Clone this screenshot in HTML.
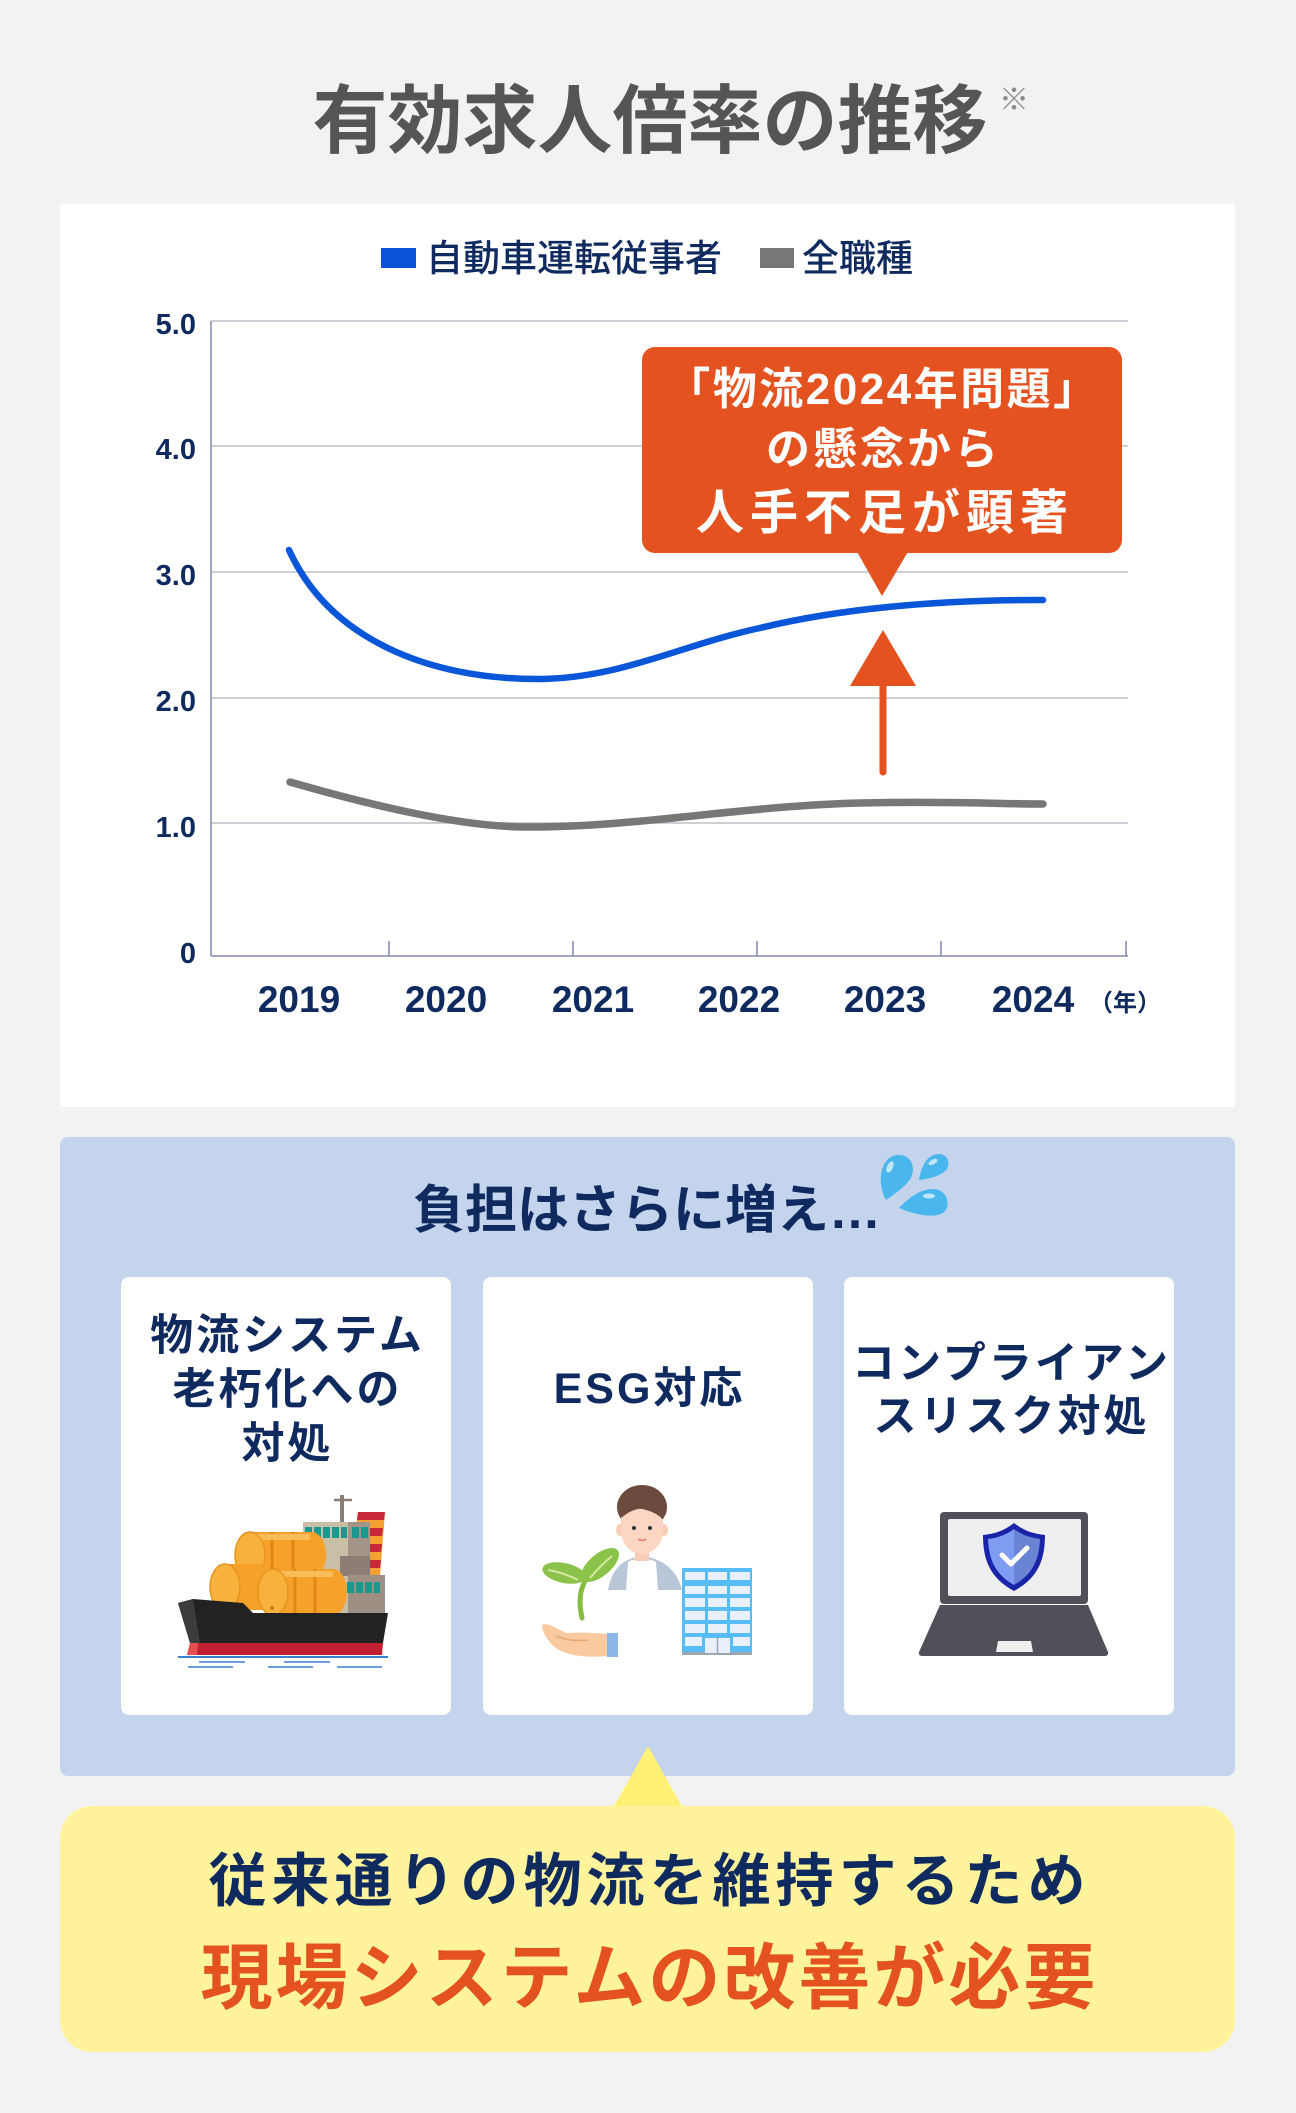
<!DOCTYPE html>
<html lang="ja">
<head>
<meta charset="utf-8">
<style>
html,body{margin:0;padding:0;background:#f2f2f2;}
svg{display:block;}
text{font-family:"Liberation Sans","Noto Sans CJK JP",sans-serif;font-weight:700;}
</style>
</head>
<body>
<svg width="1296" height="2113" viewBox="0 0 1296 2113" xmlns="http://www.w3.org/2000/svg">
<rect x="0" y="0" width="1296" height="2113" fill="#f2f2f2"/>

<!-- Title -->
<text x="650" y="147" font-size="75" fill="#555555" text-anchor="middle">有効求人倍率の推移</text>
<text x="999" y="110" font-size="30" fill="#8a8a8a" style="font-weight:400">※</text>

<!-- Chart card -->
<rect x="60" y="204" width="1175" height="903" fill="#ffffff"/>

<!-- Legend -->
<rect x="381" y="248" width="35" height="20" fill="#0a52d8"/>
<text x="426" y="271" font-size="37" fill="#0f2a5e" style="font-weight:500">自動車運転従事者</text>
<rect x="760" y="248" width="34" height="20" fill="#777777"/>
<text x="802" y="271" font-size="37" fill="#0f2a5e" style="font-weight:500">全職種</text>

<!-- Grid -->
<g stroke="#bfc1c9" stroke-width="1.5">
<line x1="211" y1="321" x2="1128" y2="321"/>
<line x1="211" y1="446" x2="1128" y2="446"/>
<line x1="211" y1="572" x2="1128" y2="572"/>
<line x1="211" y1="698" x2="1128" y2="698"/>
<line x1="211" y1="823" x2="1128" y2="823"/>
</g>
<g stroke="#8089ac" stroke-width="1.5">
<line x1="211" y1="321" x2="211" y2="956"/>
<line x1="211" y1="956" x2="1128" y2="956"/>
<line x1="389" y1="941" x2="389" y2="956"/>
<line x1="573" y1="941" x2="573" y2="956"/>
<line x1="757" y1="941" x2="757" y2="956"/>
<line x1="941" y1="941" x2="941" y2="956"/>
<line x1="1126" y1="941" x2="1126" y2="956"/>
</g>

<!-- Y labels -->
<g font-size="29" fill="#0f2a5e" text-anchor="end">
<text x="196" y="334">5.0</text>
<text x="196" y="459">4.0</text>
<text x="196" y="585">3.0</text>
<text x="196" y="711">2.0</text>
<text x="196" y="837">1.0</text>
<text x="196" y="963">0</text>
</g>

<!-- X labels -->
<g font-size="37" fill="#0f2a5e" text-anchor="middle">
<text x="299" y="1012">2019</text>
<text x="446" y="1012">2020</text>
<text x="593" y="1012">2021</text>
<text x="739" y="1012">2022</text>
<text x="885" y="1012">2023</text>
<text x="1033" y="1012">2024</text>
</g>
<text x="1125" y="1011" font-size="24" fill="#0f2a5e" text-anchor="middle">（年）</text>

<!-- Series -->
<path d="M289 550 C330 640 430 679 537 679 C620 679 680 645 760 628 C850 606 950 600 1043 600" fill="none" stroke="#0a56d8" stroke-width="6.5" stroke-linecap="round"/>
<path d="M290 782 C370 805 460 827 527 827 C640 827 740 806 860 803 C950 801 1000 804 1043 804" fill="none" stroke="#777777" stroke-width="7.5" stroke-linecap="round"/>

<!-- Callout -->
<rect x="642" y="347" width="480" height="206" rx="13" fill="#e4521f"/>
<polygon points="856,550 909,550 882,596" fill="#e4521f"/>
<text x="883" y="404" font-size="44" fill="#ffffff" text-anchor="middle" style="letter-spacing:2.5px">「物流2024年問題」</text>
<text x="883.5" y="464" font-size="44" fill="#ffffff" text-anchor="middle" style="letter-spacing:3px">の懸念から</text>
<text x="885" y="529" font-size="48" fill="#ffffff" text-anchor="middle" style="letter-spacing:6px">人手不足が顕著</text>

<!-- Arrow -->
<line x1="883" y1="680" x2="883" y2="772" stroke="#e4521f" stroke-width="7" stroke-linecap="round"/>
<polygon points="850,686 916,686 883,630" fill="#e4521f"/>

<!-- Blue panel -->
<rect x="60" y="1137" width="1175" height="639" rx="8" fill="#c3d4ec"/>
<text x="413" y="1228" font-size="52" fill="#0f2a5e">負担はさらに増え…</text>

<!-- Drops -->
<g fill="#49b6ee">
<path d="M886 1200 C877 1185 879 1157 897 1155 C914 1154 917 1172 908 1182 C901 1190 893 1195 886 1200 Z"/>
<path d="M919 1180 C921 1168 926 1155 938 1154 C950 1154 951 1167 944 1172 C937 1177 928 1179 919 1180 Z"/>
<path d="M899 1208 C910 1197 920 1189 934 1189 C948 1190 951 1206 944 1212 C936 1219 915 1215 899 1208 Z"/>
</g>
<g fill="#bfe6fb">
<ellipse cx="890" cy="1167" rx="3" ry="6" transform="rotate(25 890 1167)"/>
<ellipse cx="933" cy="1162" rx="5" ry="2.5" transform="rotate(-30 933 1162)"/>
<ellipse cx="929" cy="1196" rx="6" ry="2.5"/>
</g>

<!-- Cards -->
<rect x="121" y="1277" width="330" height="438" rx="8" fill="#ffffff"/>
<rect x="483" y="1277" width="330" height="438" rx="8" fill="#ffffff"/>
<rect x="844" y="1277" width="330" height="438" rx="8" fill="#ffffff"/>

<g font-size="43" fill="#0f2a5e" text-anchor="middle" style="letter-spacing:3px">
<text x="287.5" y="1350">物流システム</text>
<text x="287.5" y="1404">老朽化への</text>
<text x="287.5" y="1458">対処</text>
<text x="649.5" y="1403">ESG対応</text>
<text x="1011.5" y="1378">コンプライアン</text>
<text x="1011.5" y="1431">スリスク対処</text>
</g>

<!-- Ship illustration -->
<g>
<line x1="178" y1="1657" x2="388" y2="1657" stroke="#3b7fd0" stroke-width="2"/>
<g stroke="#3b7fd0" stroke-width="1.6">
<line x1="199" y1="1662" x2="245" y2="1662"/>
<line x1="284" y1="1662" x2="330" y2="1662"/>
<line x1="188" y1="1667" x2="233" y2="1667"/>
<line x1="268" y1="1667" x2="313" y2="1667"/>
<line x1="337" y1="1667" x2="382" y2="1667"/>
</g>
<!-- mast -->
<line x1="342" y1="1495" x2="342" y2="1524" stroke="#8a7d75" stroke-width="4"/>
<line x1="334" y1="1500" x2="352" y2="1500" stroke="#8a7d75" stroke-width="2.5"/>
<!-- funnel -->
<polygon points="358,1512 385,1512 380,1576 350,1576" fill="#f5a030"/>
<g fill="#c8283a">
<polygon points="358,1512 385,1512 384,1520 357,1520"/>
<polygon points="357,1528 383,1528 382,1536 356,1536"/>
<polygon points="356,1544 382,1544 381,1552 355,1552"/>
<polygon points="355,1560 381,1560 380,1568 354,1568"/>
</g>
<!-- superstructure -->
<rect x="303" y="1522" width="60" height="92" fill="#c9bfa6"/>
<rect x="348" y="1522" width="22" height="40" fill="#a39388"/>
<rect x="340" y="1556" width="30" height="20" fill="#8c7e74"/>
<rect x="348" y="1575" width="37" height="39" fill="#9e8f84"/>
<g fill="#1a9a8e">
<rect x="305" y="1527" width="7" height="11"/>
<rect x="314" y="1527" width="7" height="11"/>
<rect x="323" y="1527" width="7" height="11"/>
<rect x="332" y="1527" width="7" height="11"/>
<rect x="341" y="1527" width="6" height="11"/>
<rect x="352" y="1527" width="7" height="11"/>
<rect x="361" y="1527" width="7" height="11"/>
<rect x="347" y="1582" width="7" height="11"/>
<rect x="356" y="1582" width="7" height="11"/>
<rect x="365" y="1582" width="7" height="11"/>
<rect x="374" y="1582" width="6" height="11"/>
</g>
<!-- barrels -->
<g>
<rect x="250" y="1532" width="62" height="46" fill="#f5a12a"/>
<ellipse cx="312" cy="1555" rx="14" ry="23" fill="#f5a12a"/>
<line x1="272" y1="1532" x2="272" y2="1578" stroke="#e08618" stroke-width="3"/>
<line x1="293" y1="1532" x2="293" y2="1578" stroke="#e08618" stroke-width="3"/>
<rect x="255" y="1534" width="55" height="6" fill="#f8bd58"/>
<ellipse cx="250" cy="1555" rx="15" ry="23" fill="#f7b23e" stroke="#e89420" stroke-width="1.5"/>
<circle cx="249" cy="1571" r="2" fill="#d07810"/>
</g>
<g>
<rect x="225" y="1564" width="45" height="46" fill="#f5a12a"/>
<ellipse cx="225" cy="1587" rx="15" ry="23" fill="#f7b23e" stroke="#e89420" stroke-width="1.5"/>
</g>
<g>
<rect x="273" y="1569" width="60" height="46" fill="#f5a12a"/>
<ellipse cx="333" cy="1592" rx="14" ry="23" fill="#f5a12a"/>
<line x1="295" y1="1569" x2="295" y2="1615" stroke="#e08618" stroke-width="3"/>
<line x1="315" y1="1569" x2="315" y2="1615" stroke="#e08618" stroke-width="3"/>
<rect x="278" y="1571" width="55" height="6" fill="#f8bd58"/>
<ellipse cx="273" cy="1592" rx="15" ry="23" fill="#f7b23e" stroke="#e89420" stroke-width="1.5"/>
<circle cx="272" cy="1608" r="2" fill="#d07810"/>
</g>
<!-- hull -->
<polygon points="178,1603 193,1599 243,1603 253,1613 388,1613 383,1643 190,1643" fill="#222222"/>
<polygon points="178,1603 193,1599 200,1643 190,1643" fill="#3c3c3c"/>
<polygon points="190,1643 383,1643 382,1655 187,1655" fill="#c0202f"/>
<polygon points="190,1643 198,1643 197,1655 187,1655" fill="#e85050"/>
</g>

<!-- Person / plant / building -->
<g>
<path d="M608 1590 C612 1566 626 1558 642 1556 C658 1558 676 1566 682 1590 Z" fill="#b9c6d8"/>
<path d="M628 1562 C634 1558 650 1558 656 1562 L658 1590 L626 1590 Z" fill="#ffffff"/>
<rect x="635" y="1545" width="14" height="16" fill="#f8cdb7"/>
<ellipse cx="642" cy="1507" rx="25" ry="22" fill="#6b4b3e"/>
<ellipse cx="620" cy="1530" rx="4" ry="6" fill="#f8cdb7"/>
<ellipse cx="664" cy="1530" rx="4" ry="6" fill="#f8cdb7"/>
<path d="M621 1518 C626 1514 636 1506 646 1510 C654 1512 660 1516 663 1520 L663 1532 C662 1546 652 1554 642 1554 C632 1554 622 1546 621 1532 Z" fill="#fcd6c2"/>
<circle cx="634" cy="1528" r="2" fill="#333"/>
<circle cx="650" cy="1528" r="2" fill="#333"/>
<path d="M638 1539 Q642 1542 646 1539" stroke="#e07a6a" stroke-width="1.5" fill="none"/>
<!-- plant -->
<path d="M582 1618 C578 1600 580 1588 588 1576" stroke="#86bd3f" stroke-width="5" fill="none" stroke-linecap="round"/>
<ellipse cx="564" cy="1573" rx="22" ry="10" transform="rotate(12 564 1573)" fill="#8bc34a"/>
<ellipse cx="600" cy="1565" rx="23" ry="11" transform="rotate(-40 600 1565)" fill="#8bc34a"/>
<path d="M548 1570 Q562 1572 578 1580" stroke="#d7e8a6" stroke-width="2" fill="none"/>
<path d="M590 1578 Q600 1566 612 1556" stroke="#d7e8a6" stroke-width="2" fill="none"/>
<!-- hand -->
<path d="M542 1625 C548 1622 556 1628 566 1633 C580 1632 596 1633 607 1634 L607 1656 C590 1658 566 1656 556 1648 C548 1642 542 1632 542 1625 Z" fill="#f9c9a0"/>
<path d="M556 1636 Q570 1642 588 1640" stroke="#e8a870" stroke-width="1.5" fill="none"/>
<rect x="607" y="1633" width="11" height="24" fill="#8bb6e6"/>
<!-- building -->
<rect x="682" y="1568" width="70" height="87" fill="#58bdf5"/>
<rect x="682" y="1652" width="70" height="3" fill="#9aa6b2"/>
<g fill="#e8f0fb">
<rect x="685" y="1572" width="20" height="8"/><rect x="708" y="1572" width="19" height="8"/><rect x="730" y="1572" width="20" height="8"/>
<rect x="685" y="1586" width="20" height="8"/><rect x="708" y="1586" width="19" height="8"/><rect x="730" y="1586" width="20" height="8"/>
<rect x="685" y="1598" width="20" height="9"/><rect x="708" y="1598" width="19" height="9"/><rect x="730" y="1598" width="20" height="9"/>
<rect x="685" y="1611" width="20" height="9"/><rect x="708" y="1611" width="19" height="9"/><rect x="730" y="1611" width="20" height="9"/>
<rect x="685" y="1624" width="20" height="9"/><rect x="708" y="1624" width="19" height="9"/><rect x="730" y="1624" width="20" height="9"/>
<rect x="685" y="1637" width="17" height="9"/><rect x="733" y="1637" width="17" height="9"/>
<rect x="705" y="1638" width="25" height="15"/>
</g>
<line x1="717.5" y1="1638" x2="717.5" y2="1653" stroke="#9aa6b2" stroke-width="1.5"/>
</g>

<!-- Laptop -->
<g>
<rect x="940" y="1512" width="148" height="92" rx="4" fill="#505058"/>
<rect x="948" y="1519" width="133" height="77" rx="2" fill="#efefef"/>
<path d="M940 1605 L1088 1605 L1108 1652 Q1109 1656 1104 1656 L923 1656 Q918 1656 919 1652 Z" fill="#505058"/>
<polygon points="998,1641 1031,1641 1033,1652 996,1652" fill="#efefef"/>
<path d="M1014 1523 C1004 1531 994 1534 983 1535 C983 1560 990 1578 1014 1591 C1038 1578 1045 1560 1045 1535 C1034 1534 1024 1531 1014 1523 Z" fill="#1a24a8"/>
<path d="M1014 1529 C1006 1535 997 1538 988 1539 C989 1560 995 1574 1014 1585 Z" fill="#7d9cf2"/>
<path d="M1014 1529 C1022 1535 1031 1538 1040 1539 C1039 1560 1033 1574 1014 1585 Z" fill="#6a84d4"/>
<path d="M1002 1555 L1011 1564 L1027 1548" stroke="#ffffff" stroke-width="5" fill="none" stroke-linecap="round" stroke-linejoin="round"/>
</g>

<!-- Yellow box -->
<polygon points="613,1808 683,1808 648,1746" fill="#fff176"/>
<rect x="60" y="1806" width="1175" height="246" rx="32" fill="#fff49c"/>
<text x="649.5" y="1901" font-size="58" fill="#0f2a5e" text-anchor="middle" style="letter-spacing:5px">従来通りの物流を維持するため</text>
<text x="649.5" y="2003" font-size="72" fill="#e4521f" text-anchor="middle" style="letter-spacing:3px">現場システムの改善が必要</text>
</svg>
</body>
</html>
